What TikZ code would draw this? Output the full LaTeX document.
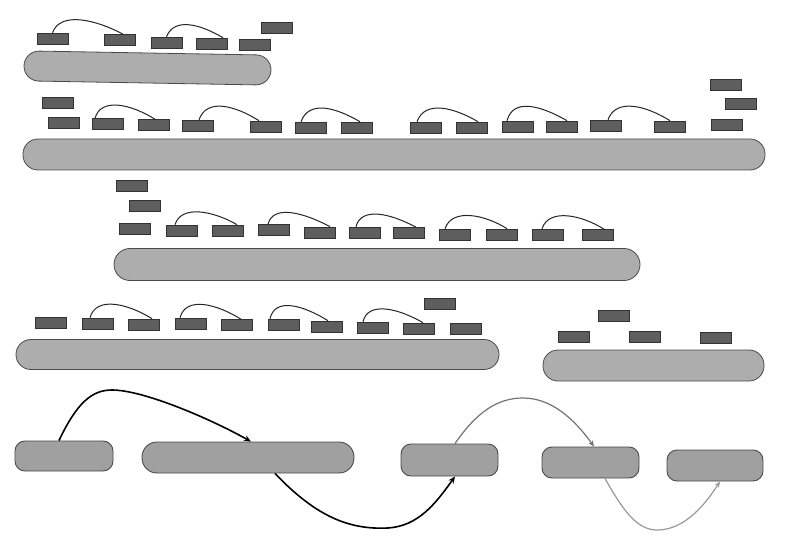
\documentclass[tikz,border=0pt]{standalone}
\usetikzlibrary{arrows.meta}
\definecolor{barfill}{HTML}{5E5E5E}
\definecolor{barline}{HTML}{333333}
\definecolor{bigfill}{HTML}{ADADAD}
\definecolor{bigline}{HTML}{4A4A4A}
\definecolor{boxfill}{HTML}{A0A0A0}
\tikzset{
  bar/.style={draw=barline, fill=barfill, line width=0.6pt, minimum width=31pt, minimum height=11pt, inner sep=0pt},
  bigshape/.style={draw=bigline, fill=bigfill, line width=0.8pt, inner sep=0pt, rounded corners=15pt},
  seg/.style={draw=bigline, fill=boxfill, line width=0.9pt, inner sep=0pt},
  hop/.style={draw=black!85, line width=1pt},
  flowA/.style={draw=black, line width=1.6pt, -{Stealth[length=7pt,width=6pt]}},
  flowB/.style={draw=black!55, line width=1.2pt, -{Stealth[length=6pt,width=5pt]}},
  flowC/.style={draw=black!40, line width=1.2pt, -{Stealth[length=6pt,width=5pt]}}
}
\begin{document}
\begin{tikzpicture}[x=1pt,y=-1pt]
\useasboundingbox (0,0) rectangle (787,545);
\fill[white] (0,0) rectangle (787,545);

% ---------- row 1 ----------
\node[bigshape, minimum width=247pt, minimum height=30pt, rotate=-1] (b1) at (147.5,68) {};
\node[bar] (r1a) at (52.5,38.5) {};
\node[bar] (r1b) at (120,40) {};
\node[bar] (r1c) at (166.5,42.5) {};
\node[bar] (r1d) at (212,43.5) {};
\node[bar] (r1e) at (255,44.5) {};
\node[bar] (r1f) at (277,27.5) {};
\draw[hop] (r1a.north) .. controls +(8,-22) and +(-26,-14) .. ([xshift=3pt]r1b.north);
\draw[hop] (r1c.north) .. controls +(8,-20) and +(-22,-13) .. ([xshift=11pt]r1d.north);

% ---------- row 2 ----------
\node[bigshape, minimum width=742pt, minimum height=31pt] (b2) at (394,154.5) {};
\node[bar] (r2a) at (58,102.5) {};
\node[bar] (r2b) at (63.5,122.5) {};
\node[bar] (r2c) at (108,124) {};
\node[bar] (r2d) at (153.5,125) {};
\node[bar] (r2e) at (197.5,125.5) {};
\node[bar] (r2f) at (265.5,126.5) {};
\node[bar] (r2g) at (311,127.5) {};
\node[bar] (r2h) at (356.5,127.5) {};
\node[bar] (r2i) at (425.5,127.5) {};
\node[bar] (r2j) at (471.5,127.5) {};
\node[bar] (r2k) at (517.5,126.5) {};
\node[bar] (r2l) at (561.5,126.5) {};
\node[bar] (r2m) at (606,125.5) {};
\node[bar] (r2n) at (669.5,126.5) {};
\node[bar] (r2o) at (727,125) {};
\node[bar] (r2p) at (740.5,103.5) {};
\node[bar] (r2q) at (726,84.5) {};
\draw[hop] ([xshift=-13pt]r2c.north) .. controls +(6,-21) and +(-24,-15) .. ([xshift=1.5pt]r2d.north);
\draw[hop] ([xshift=1.5pt]r2e.north) .. controls +(8,-22) and +(-24,-15) .. ([xshift=-6.5pt]r2f.north);
\draw[hop] ([xshift=-10pt]r2g.north) .. controls +(8,-22) and +(-24,-14) .. ([xshift=3.5pt]r2h.north);
\draw[hop] ([xshift=-8.5pt]r2i.north) .. controls +(8,-22) and +(-24,-14) .. ([xshift=6.5pt]r2j.north);
\draw[hop] ([xshift=-10.5pt]r2k.north) .. controls +(6,-23) and +(-26,-15) .. ([xshift=5.5pt]r2l.north);
\draw[hop] ([xshift=2pt]r2m.north) .. controls +(8,-22) and +(-24,-15) .. ([xshift=0.5pt]r2n.north);

% ---------- row 3 ----------
\node[bigshape, minimum width=526pt, minimum height=32pt, rounded corners=16pt] (b3) at (377,264.5) {};
\node[bar] (r3a) at (132,185.5) {};
\node[bar] (r3b) at (145,205.5) {};
\node[bar] (r3c) at (135,229) {};
\node[bar] (r3d) at (182,230.5) {};
\node[bar] (r3e) at (227.5,230.5) {};
\node[bar] (r3f) at (273.5,230) {};
\node[bar] (r3g) at (320,232.5) {};
\node[bar] (r3h) at (365,232.5) {};
\node[bar] (r3i) at (408.5,233) {};
\node[bar] (r3j) at (454.5,234.5) {};
\node[bar] (r3k) at (501.5,234.5) {};
\node[bar] (r3l) at (548,234.5) {};
\node[bar] (r3m) at (598,235) {};
\draw[hop] ([xshift=-7pt]r3d.north) .. controls +(6,-20) and +(-24,-14) .. ([xshift=9.5pt]r3e.north);
\draw[hop] ([xshift=-5.5pt]r3f.north) .. controls +(5,-20) and +(-26,-14) .. ([xshift=10pt]r3g.north);
\draw[hop] ([xshift=-9pt]r3h.north) .. controls +(5,-20) and +(-26,-14) .. ([xshift=7.5pt]r3i.north);
\draw[hop] ([xshift=-9.5pt]r3j.north) .. controls +(7,-21) and +(-22,-14) .. ([xshift=5.5pt]r3k.north);
\draw[hop] ([xshift=-6pt]r3l.north) .. controls +(7,-21) and +(-22,-14) .. ([xshift=6pt]r3m.north);

% ---------- row 4 ----------
\node[bigshape, minimum width=483pt, minimum height=30pt] (b4) at (257.5,354.5) {};
\node[bar] (r4a) at (50.5,322.5) {};
\node[bar] (r4b) at (98,323.5) {};
\node[bar] (r4c) at (144,324.5) {};
\node[bar] (r4d) at (191,323.5) {};
\node[bar] (r4e) at (236.5,325) {};
\node[bar] (r4f) at (283.5,324.5) {};
\node[bar] (r4g) at (326.5,326.5) {};
\node[bar] (r4h) at (372.5,327.5) {};
\node[bar] (r4i) at (418.5,328.5) {};
\node[bar] (r4j) at (465.5,328.5) {};
\node[bar] (r4k) at (440,303.5) {};
\draw[hop] ([xshift=-8pt]r4b.north) .. controls +(6,-22) and +(-24,-15) .. ([xshift=8pt]r4c.north);
\draw[hop] ([xshift=-11pt]r4d.north) .. controls +(6,-22) and +(-24,-15) .. ([xshift=4.5pt]r4e.north);
\draw[hop] ([xshift=-13.5pt]r4f.north) .. controls +(5,-22) and +(-24,-15) .. ([xshift=1.5pt]r4g.north);
\draw[hop] ([xshift=-9.5pt]r4h.north) .. controls +(5,-21) and +(-24,-14) .. ([xshift=4.5pt]r4i.north);

% ---------- row 5 (right) ----------
\node[bigshape, minimum width=221pt, minimum height=31pt] (b5) at (653.5,365.5) {};
\node[bar] (r5a) at (614,316) {};
\node[bar] (r5b) at (573.5,336.5) {};
\node[bar] (r5c) at (645,336.5) {};
\node[bar] (r5d) at (716,337.5) {};

% ---------- bottom row ----------
\node[seg, minimum width=98pt, minimum height=30pt, rounded corners=10pt] (bx1) at (64,456) {};
\node[seg, minimum width=212pt, minimum height=31pt, rounded corners=15pt] (bx2) at (248,457.5) {};
\node[seg, minimum width=97pt, minimum height=32pt, rounded corners=10pt] (bx3) at (449.5,460) {};
\node[seg, minimum width=97pt, minimum height=31pt, rounded corners=10pt] (bx4) at (590.5,462.5) {};
\node[seg, minimum width=96pt, minimum height=31pt, rounded corners=10pt] (bx5) at (715,465.5) {};

\draw[flowA] ([xshift=-5pt]bx1.north) .. controls +(18,-38) and +(-20,0) .. (112,390)
   .. controls +(30,0) and +(-45,-25) .. ([xshift=3pt]bx2.north);
\draw[flowA] ([xshift=27pt]bx2.south) .. controls +(40,42) and +(-40,2) .. (388,528)
   .. controls +(30,-2) and +(-20,28) .. ([xshift=5.5pt]bx3.south);
\draw[flowB] ([xshift=5.5pt]bx3.north) .. controls +(22,-32) and +(-25,0) .. (523,398)
   .. controls +(28,0) and +(-20,-28) .. ([xshift=3.5pt]bx4.north);
\draw[flowC] ([xshift=14.5pt]bx4.south) .. controls +(18,32) and +(-20,0) .. (657,530)
   .. controls +(25,0) and +(-18,28) .. ([xshift=5pt]bx5.south);
\end{tikzpicture}
\end{document}
